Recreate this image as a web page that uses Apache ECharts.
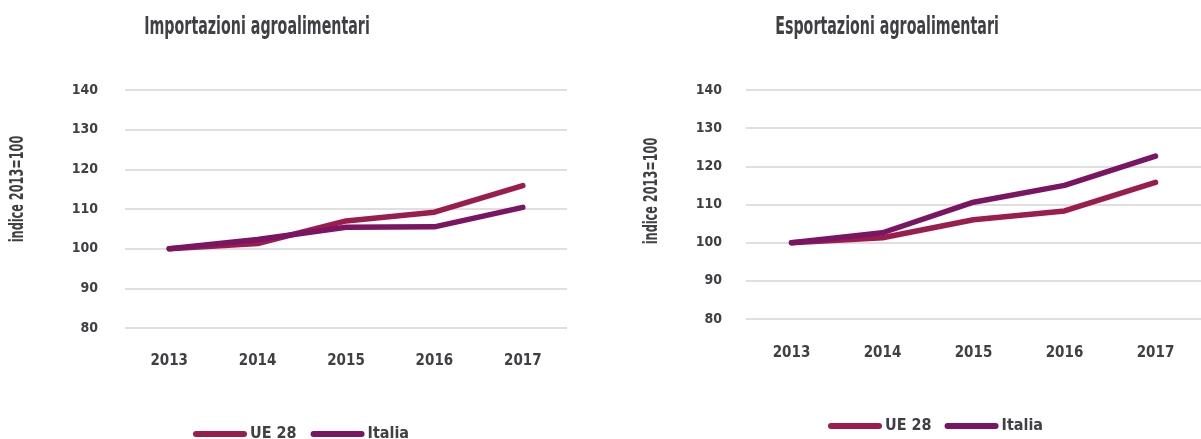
<!DOCTYPE html>
<html>
<head>
<meta charset="utf-8">
<script src="https://cdn.jsdelivr.net/npm/echarts@6/dist/echarts.min.js"></script>
<style>
  html, body { margin: 0; padding: 0; background: #ffffff; }
  #chart { width: 1201px; height: 439px; }
</style>
</head>
<body>
<div id="chart"></div>
<script>
// Agri-food trade indices, 2013 = 100
const years = ['2013', '2014', '2015', '2016', '2017'];
const yTicks = { min: 80, max: 140, step: 10 };

const importUE28 = [100, 101.3, 107.0, 109.2, 115.9];
const importItalia = [100, 102.3, 105.4, 105.5, 110.4];

const exportUE28 = [100, 101.3, 106.0, 108.3, 115.8];
const exportItalia = [100, 102.6, 110.6, 115.0, 122.7];

const FONT = "'DejaVu Sans Condensed', 'Liberation Sans Narrow', 'Liberation Sans', sans-serif";
const TEXT = '#3f3f44';
const C_UE = '#9a1d4d';
const C_IT = '#7a1463';
const CAPSULE = 'path://M3,0 H51 A3,3 0 0 1 51,6 H3 A3,3 0 0 1 3,0 Z';

const chart = echarts.init(document.getElementById('chart'), null, { renderer: 'canvas' });

function xAxis(gridIndex, margin) {
  return {
    type: 'category', gridIndex, data: years, boundaryGap: true,
    axisLine: { show: false }, axisTick: { show: false },
    axisLabel: { color: TEXT, fontFamily: FONT, fontSize: 15, fontWeight: 'bold', margin }
  };
}
function yAxis(gridIndex, margin) {
  return {
    type: 'value', gridIndex, min: yTicks.min, max: yTicks.max, interval: yTicks.step,
    axisLine: { show: false }, axisTick: { show: false },
    splitLine: { lineStyle: { color: '#d4d4d4', width: 1.5 } },
    axisLabel: { color: TEXT, fontFamily: FONT, fontSize: 14, fontWeight: 'bold', margin }
  };
}
function line(name, data, color, idx) {
  return {
    name, type: 'line', data, xAxisIndex: idx, yAxisIndex: idx,
    showSymbol: false, symbol: 'none', smooth: false, color,
    lineStyle: { width: 5.5, color, cap: 'round', join: 'round' },
    silent: true, animation: false
  };
}
function legend(left, top, gap) {
  return {
    left, top, itemWidth: 54, itemHeight: 7, itemGap: gap, icon: CAPSULE,
    data: ['UE 28', 'Italia'], selectedMode: false,
    textStyle: { color: TEXT, fontFamily: FONT, fontSize: 16, fontWeight: 'bold', padding: [0, 0, 0, -2] }
  };
}
// narrow, tall heading text
function heading(text, x, y) {
  return {
    type: 'text', x, y, scaleX: 0.66,
    style: {
      text, fill: TEXT, font: 'bold 24px ' + FONT,
      textAlign: 'center', textVerticalAlign: 'middle'
    }
  };
}
function axisName(x, y) {
  return {
    type: 'text', x, y, rotation: Math.PI / 2, scaleX: 0.66,
    style: {
      text: 'indice 2013=100', fill: TEXT, font: 'bold 19px ' + FONT,
      textAlign: 'center', textVerticalAlign: 'middle'
    }
  };
}

chart.setOption({
  backgroundColor: '#ffffff',
  animation: false,
  legend: [legend(188, 421, 14), legend(823, 413, 13)],
  grid: [
    { left: 125, right: 634, top: 90, height: 238, containLabel: false },
    { left: 746, right: -13, top: 90, height: 229, containLabel: false }
  ],
  xAxis: [xAxis(0, 26), xAxis(1, 27)],
  yAxis: [yAxis(0, 27), yAxis(1, 24)],
  series: [
    line('UE 28', importUE28, C_UE, 0),
    line('Italia', importItalia, C_IT, 0),
    line('UE 28', exportUE28, C_UE, 1),
    line('Italia', exportItalia, C_IT, 1)
  ],
  graphic: [
    heading('Importazioni agroalimentari', 257, 28),
    heading('Esportazioni agroalimentari', 887, 28),
    axisName(18, 189),
    axisName(652, 191)
  ]
});
</script>
</body>
</html>
